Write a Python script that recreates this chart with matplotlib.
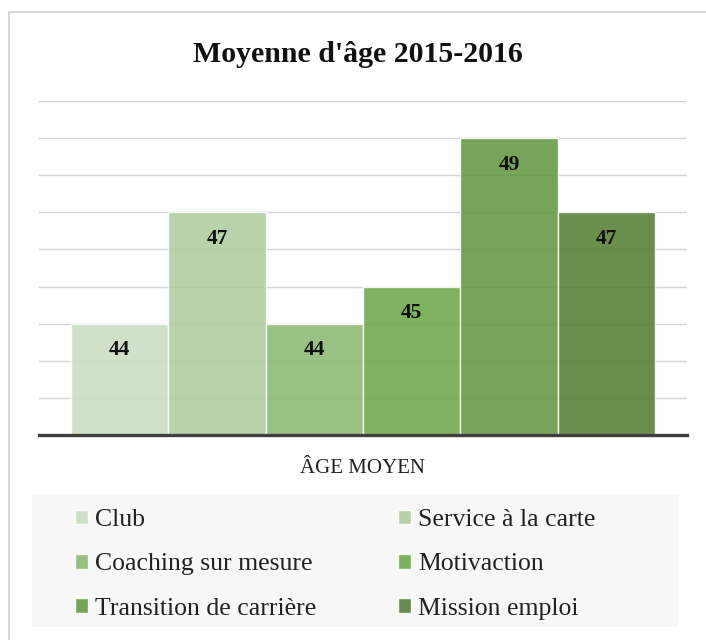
import numpy as np
import matplotlib
matplotlib.use("Agg")
import matplotlib.pyplot as plt
from matplotlib.patches import Rectangle

# --- data ---
SERIES = ["Club", "Service à la carte", "Coaching sur mesure",
          "Motivaction", "Transition de carrière", "Mission emploi"]
AGES = [44, 47, 44, 45, 49, 47]
CATEGORY = "ÂGE MOYEN"
TITLE = "Moyenne d'âge 2015-2016"

# underlying colours (drawn with alpha so the gridlines show through)
COLORS = ["#c9dbc1", "#adcb9c", "#89b770", "#6aa643", "#60953d", "#517b31"]
GRID = "#d6d6d6"
BASE = "#404040"
FONT = "Liberation Serif"

plt.rcParams["font.family"] = [FONT, "DejaVu Serif"]

W, H = 706, 640
fig = plt.figure(figsize=(W / 100, H / 100), dpi=100, facecolor="white")

# outer chart border
fig.patches.append(Rectangle((9 / W, -0.01), 1.0, 1 - 12 / H + 0.01, transform=fig.transFigure,
                             facecolor="none", edgecolor="#cfcfcf", linewidth=1.2))
# legend background
fig.patches.append(Rectangle((32 / W, 1 - 627 / H), 646 / W, 132 / H, transform=fig.transFigure,
                             facecolor="#f7f7f7", edgecolor="none"))

ax = fig.add_axes([39 / W, 1 - 435 / H, 648 / W, 334 / H])
ax.set_facecolor("none")

x = np.arange(len(AGES))
bars = ax.bar(x, AGES, width=1.0, color=COLORS, alpha=0.86, edgecolor="white",
              linewidth=1.0, zorder=2)

for xi, v in zip(x, AGES):
    ax.annotate(str(v), (xi, v), xytext=(0, -19), textcoords="offset points",
                ha="center", va="center", fontsize=15.5, fontweight="bold", color="#111111",
                zorder=4)

ax.set_ylim(41, 50)
ax.set_xlim(-0.5 - 0.33, len(AGES) - 0.5 + 0.33)
ax.set_yticks(np.arange(41, 51, 1))
ax.yaxis.grid(True, color=GRID, linewidth=1.0, zorder=0)
ax.set_axisbelow(True)
ax.tick_params(axis="y", length=0, labelleft=False)
ax.set_xticks([(len(AGES) - 1) / 2])
ax.set_xticklabels([CATEGORY], fontsize=15, color="#222222")
ax.tick_params(axis="x", length=0, pad=17)
for s in ("top", "right", "left"):
    ax.spines[s].set_visible(False)
ax.spines["bottom"].set_color(BASE)
ax.spines["bottom"].set_linewidth(2.4)
ax.spines["bottom"].set_zorder(5)

fig.text(358 / W, 1 - 55 / H, TITLE, ha="center", va="center",
         fontsize=21.5, fontweight="bold", color="#111111")

# legend: row-wise order in 2 columns
order = [0, 2, 4, 1, 3, 5]
handles = [bars[i] for i in order]
labels = [SERIES[i] for i in order]
fig.legend(handles, labels, loc="upper left", bbox_to_anchor=(75 / W, 1 - 509 / H),
           ncol=2, frameon=False, borderpad=0, borderaxespad=0, fontsize=18.5,
           handlelength=0.5, handleheight=0.5, handletextpad=0.27,
           labelspacing=0.87, columnspacing=3.2, labelcolor="#222222")

fig.savefig("out.png", dpi=100, facecolor="white")
